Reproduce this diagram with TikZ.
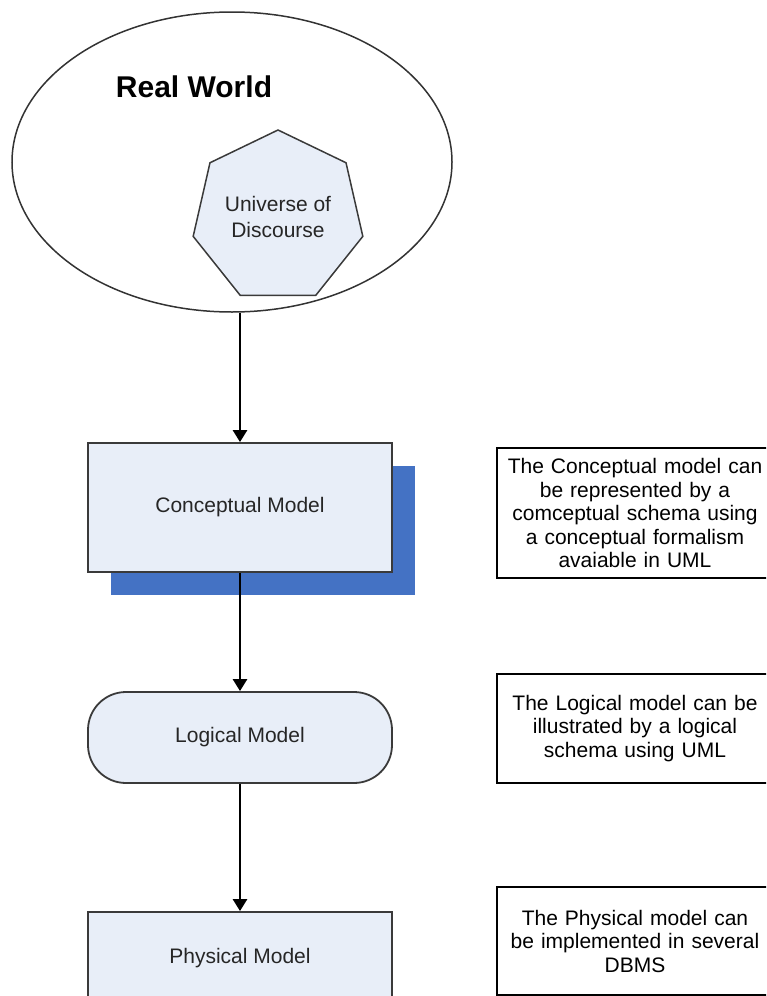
\documentclass[tikz,border=0pt]{standalone}
\usepackage{fontspec}
\setmainfont{Liberation Sans}
\usetikzlibrary{shapes.geometric,shadows,arrows.meta}
\definecolor{boxfill}{HTML}{E8EEF8}
\definecolor{shadowblue}{HTML}{4472C4}
\definecolor{edgegray}{HTML}{3A3A3A}
\begin{document}
\begin{tikzpicture}[x=1pt,y=-1pt,
  model/.style={draw=edgegray,line width=1.8pt,fill=boxfill,text=black!85,minimum width=304pt,font=\fontsize{21}{24}\selectfont},
  note/.style={draw=black,line width=2.8pt,fill=white,align=center,text width=266pt,minimum width=276pt,font=\fontsize{21}{23.5}\selectfont},
  flow/.style={line width=2.6pt,-{Triangle[width=14pt,length=12pt]}}]
\clip (0,0) rectangle (766,996);
\node[draw=black!80,line width=1.5pt,ellipse,minimum width=440pt,minimum height=300pt,inner sep=0pt] (realworld) at (232,162) {};
\node[font=\fontsize{30}{34}\selectfont\bfseries] (rwlabel) at (194,87) {Real World};
\node[draw=edgegray,line width=1.5pt,fill=boxfill,regular polygon,regular polygon sides=7,minimum size=174pt,inner sep=0pt,align=center,text=black!85,font=\fontsize{21}{26}\selectfont] (uod) at (278,217) {Universe of\\Discourse};
\node[model,minimum height=129pt,drop shadow={shadow xshift=23pt,shadow yshift=-23pt,fill=shadowblue,opacity=1}] (concept) at (240,507.5) {Conceptual Model};
\node[model,rounded corners=38pt,minimum height=91pt] (logical) at (240,737.5) {Logical Model};
\node[model,minimum height=92pt] (physical) at (240,958) {Physical Model};
\node[note,minimum height=130pt] (conceptnote) at (635,513) {The Conceptual model can\\be represented by a\\comceptual schema using\\a conceptual formalism\\avaiable in UML};
\node[note,minimum height=109pt] (logicalnote) at (635,728.5) {The Logical model can be\\illustrated by a logical\\schema using UML};
\node[note,minimum height=108pt] (physicalnote) at (635,941) {The Physical model can\\be implemented in several\\DBMS};
\draw[flow] (realworld.south -| concept.north) -- (concept.north);
\draw[flow] (concept.south) -- (logical.north);
\draw[flow] (logical.south) -- (physical.north);
\end{tikzpicture}
\end{document}
